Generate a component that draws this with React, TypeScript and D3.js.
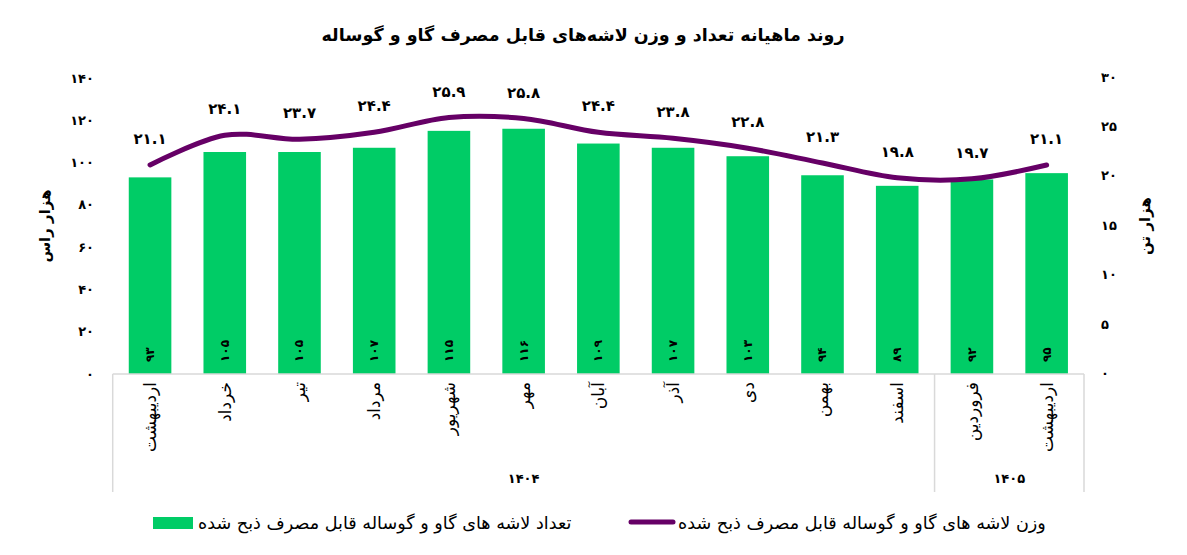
import React from "react";
import * as d3 from "d3";

const months = ["اردیبهشت", "خرداد", "تیر", "مرداد", "شهریور", "مهر", "آبان", "آذر", "دی", "بهمن", "اسفند", "فروردین", "اردیبهشت"];
const counts = [93, 105, 105, 107, 115, 116, 109, 107, 103, 94, 89, 92, 95];
const weights = [21.1, 24.1, 23.7, 24.4, 25.9, 25.8, 24.4, 23.8, 22.8, 21.3, 19.8, 19.7, 21.1];
const leftTicks = [0, 20, 40, 60, 80, 100, 120, 140];
const rightTicks = [0, 5, 10, 15, 20, 25, 30];
const yearLabels = ["1404", "1405"];
const yearSizes = [11, 2];

const title = "روند ماهیانه تعداد و وزن لاشه‌های قابل مصرف گاو و گوساله";
const barLegend = "تعداد لاشه های گاو و گوساله قابل مصرف ذبح شده";
const lineLegend = "وزن لاشه های گاو و گوساله قابل مصرف ذبح شده";
const leftTitle = "هزار راس";
const rightTitle = "هزار تن";

const GREEN = "#00CC66";
const PURPLE = "#660066";
const FONT = "'DejaVu Sans', sans-serif";

const toFa = (s: string | number) => String(s).replace(/[0-9]/g, (d) => "۰۱۲۳۴۵۶۷۸۹"[+d]);

export default function App() {
  const W = 1187, H = 555;
  const left = 112.7, right = 1084, bottom = 374, top = 77;
  const x = d3.scaleBand<number>().domain(d3.range(months.length)).range([left, right]).paddingInner(0.43).paddingOuter(0.215);
  const yL = d3.scaleLinear().domain([0, 140]).range([bottom, 78]);
  const yR = d3.scaleLinear().domain([0, 30]).range([373.5, top]);
  const bw = x.bandwidth();
  const cx = (i: number) => (x(i) as number) + bw / 2;
  const step = x.step();
  const line = d3.line<number>().x((_, i) => cx(i)).y((d) => yR(d)).curve(d3.curveCardinal.tension(0));

  let acc = 0;
  const groups = yearSizes.map((n, gi) => {
    const s = acc;
    acc += n;
    return { label: yearLabels[gi], x0: left + s * step, x1: left + acc * step };
  });

  return (
    <svg width={W} height={H} style={{ position: "absolute", left: 0, top: 0, background: "#fff" }} fontFamily={FONT}>
      <text x={583} y={41} textAnchor="middle" fontSize={17.5} fontWeight="bold" fill="#000">{title}</text>

      {counts.map((v, i) => (
        <rect key={"b" + i} x={x(i)} y={yL(v)} width={bw} height={bottom - yL(v)} fill={GREEN} />
      ))}

      {counts.map((v, i) => (
        <text key={"bl" + i} transform={`translate(${cx(i)},362) rotate(-90)`} textAnchor="start" dominantBaseline="central" fontSize={12} fontWeight="bold" fill="#000">{toFa(v)}</text>
      ))}

      <path d={line(weights) as string} fill="none" stroke={PURPLE} strokeWidth={5} strokeLinecap="round" />

      {weights.map((v, i) => (
        <text key={"ll" + i} x={cx(i)} y={yR(v) - 26} textAnchor="middle" dominantBaseline="central" fontSize={15} fontWeight="bold" fill="#000">{toFa(v.toFixed(1))}</text>
      ))}

      {leftTicks.map((t) => (
        <text key={"lt" + t} x={94} y={yL(t)} textAnchor="end" dominantBaseline="central" fontSize={13} fontWeight="bold" fill="#000">{toFa(t)}</text>
      ))}
      {rightTicks.map((t) => (
        <text key={"rt" + t} x={1101} y={yR(t)} textAnchor="start" dominantBaseline="central" fontSize={13} fontWeight="bold" fill="#000">{toFa(t)}</text>
      ))}

      <text transform={`translate(45,226) rotate(-90)`} textAnchor="middle" dominantBaseline="central" fontSize={15} fontWeight="bold" fill="#000">{leftTitle}</text>
      <text transform={`translate(1145,226) rotate(-90)`} textAnchor="middle" dominantBaseline="central" fontSize={15} fontWeight="bold" fill="#000">{rightTitle}</text>

      <line x1={left} x2={right} y1={bottom} y2={bottom} stroke="#d9d9d9" strokeWidth={1.5} />
      {[groups[0].x0, ...groups.map((g) => g.x1)].map((gx, i) => (
        <line key={"gl" + i} x1={gx} x2={gx} y1={bottom} y2={492} stroke="#d9d9d9" strokeWidth={1.5} />
      ))}

      {months.map((m, i) => (
        <text key={"m" + i} transform={`translate(${cx(i)},382) rotate(-90)`} textAnchor="end" dominantBaseline="central" fontSize={17} fill="#000">{m}</text>
      ))}

      {groups.map((g, i) => (
        <text key={"y" + i} x={(g.x0 + g.x1) / 2} y={478} textAnchor="middle" dominantBaseline="central" fontSize={13} fontWeight="bold" fill="#000">{toFa(g.label)}</text>
      ))}

      <rect x={153} y={517} width={40} height={12} fill={GREEN} />
      <text x={198} y={523} textAnchor="start" dominantBaseline="central" fontSize={17.6} fill="#000">{barLegend}</text>
      <line x1={631} x2={673} y1={522} y2={522} stroke={PURPLE} strokeWidth={5} strokeLinecap="round" />
      <text x={678} y={523} textAnchor="start" dominantBaseline="central" fontSize={17.6} fill="#000">{lineLegend}</text>
    </svg>
  );
}
